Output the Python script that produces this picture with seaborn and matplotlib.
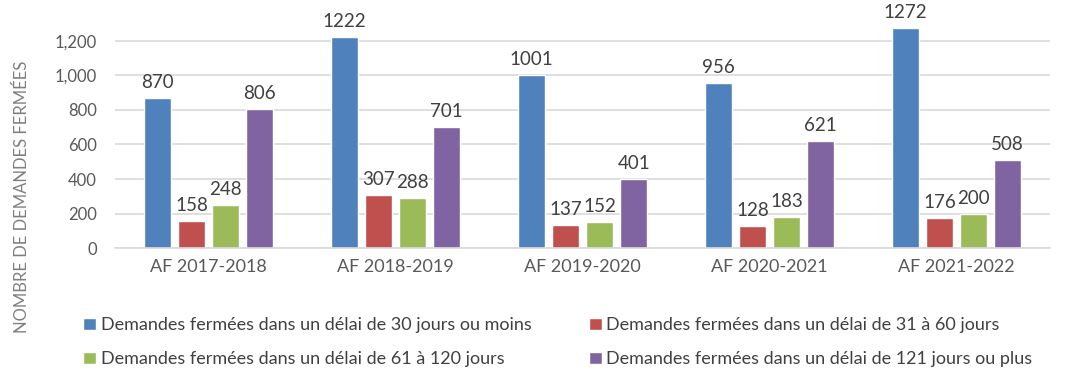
import pandas as pd
import seaborn as sns
import matplotlib
matplotlib.use('Agg')
import matplotlib.pyplot as plt

sns.set_theme(style='white')
plt.rcParams['font.family'] = ['Lato', 'DejaVu Sans']

# Données
annees = ['AF 2017-2018', 'AF 2018-2019', 'AF 2019-2020', 'AF 2020-2021', 'AF 2021-2022']
series = [
    'Demandes fermées dans un délai de 30 jours ou moins',
    'Demandes fermées dans un délai de 31 à 60 jours',
    'Demandes fermées dans un délai de 61 à 120 jours',
    'Demandes fermées dans un délai de 121 jours ou plus',
]
moins_30 = [870, 1222, 1001, 956, 1272]
de_31_60 = [158, 307, 137, 128, 176]
de_61_120 = [248, 288, 152, 183, 200]
plus_121 = [806, 701, 401, 621, 508]

couleurs = ['#4F81BD', '#C0504D', '#9BBB59', '#8064A2']
gris = '#595959'

rows = []
for serie, vals in zip(series, [moins_30, de_31_60, de_61_120, plus_121]):
    for a, v in zip(annees, vals):
        rows.append({'annee': a, 'serie': serie, 'valeur': v})
df = pd.DataFrame(rows)

fig = plt.figure(figsize=(10.66, 3.86), dpi=100)
ax = fig.add_axes([0.108, 0.357, 0.877, 0.627])

sns.barplot(data=df, x='annee', y='valeur', hue='serie', palette=couleurs,
            width=0.73, gap=0.2, saturation=1, ax=ax, legend=True)

for cont in ax.containers:
    ax.bar_label(cont, padding=5, fontsize=13.5, color='#404040')

ax.set_ylim(0, 1400)
ax.set_yticks(range(0, 1201, 200))
ax.set_yticklabels([f'{v:,}' for v in range(0, 1201, 200)])
ax.yaxis.grid(True, color='#D9D9D9', linewidth=1.2)
ax.set_axisbelow(True)
for s in ['top', 'right', 'left']:
    ax.spines[s].set_visible(False)
ax.spines['bottom'].set_color('#D9D9D9')
ax.spines['bottom'].set_linewidth(1.2)
ax.tick_params(axis='both', colors=gris, length=0)
ax.tick_params(axis='x', labelsize=13, pad=8)
ax.tick_params(axis='y', labelsize=12, pad=13)
ax.set_xlabel('')
ax.set_ylabel('')
fig.text(0.021, 0.49, 'NOMBRE DE DEMANDES FERMÉES', rotation=90, color='#7F7F7F',
         fontsize=12, ha='center', va='center')

handles, labels = ax.get_legend_handles_labels()
ax.get_legend().remove()
ordre = [0, 2, 1, 3]  # remplissage par colonnes : bleu/vert puis rouge/violet
fig.legend([handles[i] for i in ordre], [labels[i] for i in ordre], ncol=2,
           loc='upper left', bbox_to_anchor=(0.063, 0.22),
           frameon=False, fontsize=13, labelcolor='#404040', handlelength=0.7,
           handleheight=0.7, handletextpad=0.25, columnspacing=3.2, labelspacing=1.0)

plt.savefig('out.png', dpi=100)
plt.close()
